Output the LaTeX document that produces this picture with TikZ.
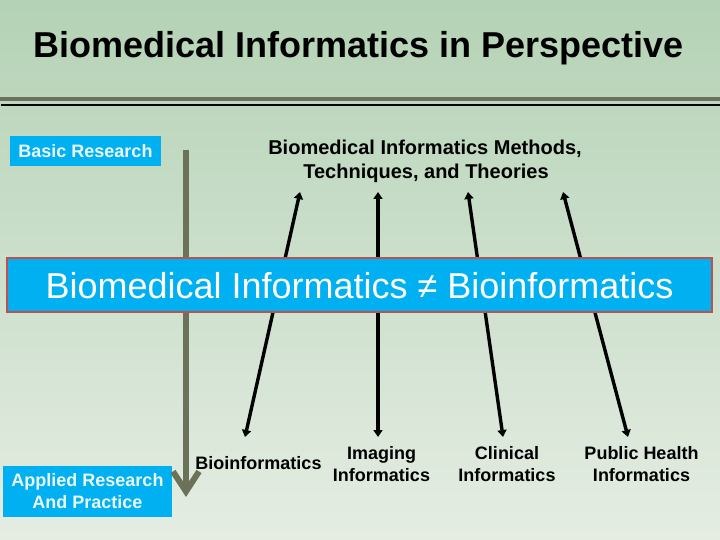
\documentclass[tikz,border=0pt]{standalone}
\usepackage{fontspec}
\setmainfont{Liberation Sans}
\usetikzlibrary{arrows.meta}
\definecolor{bgtop}{RGB}{180,210,181}
\definecolor{bgbot}{RGB}{229,237,227}
\definecolor{boxblue}{RGB}{0,176,240}
\definecolor{boxedge}{RGB}{192,80,77}
\definecolor{olive}{RGB}{108,114,90}
\definecolor{paletext}{RGB}{235,248,255}
\tikzset{
  bluebox/.style={fill=boxblue, draw=none, inner sep=0pt, text=paletext,
    font=\fontsize{18}{22}\selectfont\bfseries, align=center},
  label18/.style={inner sep=0pt, align=center, font=\fontsize{18}{22}\selectfont\bfseries},
  link/.style={line width=3.4pt, {Triangle[length=7pt,width=9pt]}-{Triangle[length=7pt,width=9pt]}},
}
\begin{document}
\begin{tikzpicture}[x=1pt,y=-1pt]
\useasboundingbox (0,0) rectangle (720,540);
\shade[top color=bgtop, bottom color=bgbot] (0,0) rectangle (720,540);

% title and rules
\node[anchor=base, inner sep=0pt, font=\fontsize{36}{43}\selectfont\bfseries] (title) at (358.5,58) {Biomedical Informatics in Perspective};
\coordinate (r1a) at (0,99); \coordinate (r1b) at (720,99);
\coordinate (r2a) at (1,105); \coordinate (r2b) at (720,105);
\draw[olive, line width=4pt] (r1a) -- (r1b);
\draw[black, line width=2.5pt] (r2a) -- (r2b);

% methods text
\node[anchor=base, inner sep=0pt, font=\fontsize{20}{24}\selectfont\bfseries] (meth1) at (425,155) {Biomedical Informatics Methods,};
\node[anchor=base, inner sep=0pt, font=\fontsize{20}{24}\selectfont\bfseries] (meth2) at (426,179) {Techniques, and Theories};

% side boxes
\node[bluebox, minimum width=151pt, minimum height=30pt] (basic) at (85.5,151) {Basic Research};
\node[bluebox, minimum width=169pt, minimum height=51pt] (applied) at (87.5,491.5) {Applied Research\\And Practice};

% vertical olive arrow
\coordinate (vtop) at (186,150);
\coordinate (vbot) at (186,497);
\draw[olive, line width=6pt, -{Straight Barb[length=20pt,width=26pt]}] (vtop) -- (vbot);

% bottom labels
\node[label18] (bio) at (258.5,463) {Bioinformatics};
\node[label18] (img) at (381.5,464) {Imaging\\Informatics};
\node[label18] (clin) at (507,464) {Clinical\\Informatics};
\node[label18] (pub) at (641.5,464) {Public Health\\Informatics};

% double arrows
\coordinate (t1) at (300,192); \coordinate (b1) at (245,437);
\coordinate (t2) at (378,192); \coordinate (b2) at (378,437);
\coordinate (t3) at (468,192); \coordinate (b3) at (503,437);
\coordinate (t4) at (563,192); \coordinate (b4) at (628,437);
\draw[link] (t1) -- (b1);
\draw[link] (t2) -- (b2);
\draw[link] (t3) -- (b3);
\draw[link] (t4) -- (b4);

% central banner
\node[fill=boxblue, draw=boxedge, line width=2pt, minimum width=705pt, minimum height=54pt, inner sep=0pt] (banner) at (359.5,285) {};
\node[anchor=base, inner sep=0pt, text=white, font=\fontsize{36}{43}\selectfont] (bannertext) at (359.5,298) {Biomedical Informatics ≠ Bioinformatics};
\end{tikzpicture}
\end{document}
